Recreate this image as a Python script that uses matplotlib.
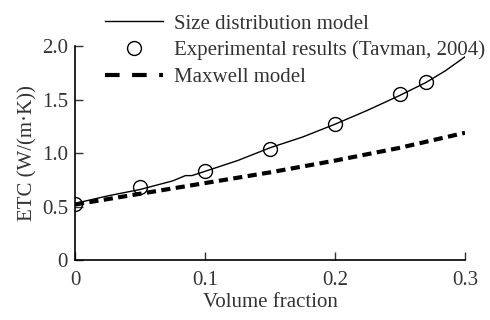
import matplotlib.pyplot as plt
from matplotlib.lines import Line2D

plt.rcParams['font.family'] = ['Liberation Serif', 'DejaVu Serif']

# size distribution model (solid line)
model_x = [0, 0.025, 0.05, 0.075, 0.085, 0.09, 0.1, 0.125, 0.15, 0.175, 0.2,
           0.225, 0.25, 0.27, 0.285, 0.3]
model_y = [0.53, 0.60, 0.66, 0.74, 0.79, 0.79, 0.83, 0.93, 1.05, 1.15, 1.27,
           1.40, 1.54, 1.66, 1.77, 1.90]

# experimental results (Tavman, 2004)
exp_x = [0, 0.05, 0.1, 0.15, 0.2, 0.25, 0.27]
exp_y = [0.52, 0.68, 0.83, 1.04, 1.27, 1.55, 1.66]

# Maxwell model (dashed)
max_x = [0, 0.05, 0.1, 0.15, 0.2, 0.25, 0.3]
max_y = [0.52, 0.62, 0.72, 0.82, 0.93, 1.05, 1.19]

fig = plt.figure(figsize=(4.9, 3.2), dpi=100)
ax = fig.add_axes([0.153, 0.187, 0.796, 0.669])

ax.plot(model_x, model_y, color='black', lw=1.0)
ax.plot(max_x, max_y, color='black', lw=3.0, dashes=(2.2, 1.3))
ax.plot(exp_x, exp_y, 'o', mfc='none', mec='black', ms=10, mew=1.0)

ax.set_xlim(0, 0.3)
ax.set_ylim(0, 2.0)
ax.set_xticks([0, 0.1, 0.2, 0.3])
ax.set_xticklabels(['0', '0.1', '0.2', '0.3'])
ax.set_yticks([0, 0.5, 1.0, 1.5, 2.0])
ax.set_yticklabels(['0', '0.5', '1.0', '1.5', '2.0'])
ax.tick_params(direction='in', length=6, width=1.0, labelsize=15, colors='#333333')
ax.tick_params(axis='x', pad=8)
ax.tick_params(axis='y', pad=5)
ax.spines['top'].set_visible(False)
ax.spines['right'].set_visible(False)
ax.spines['left'].set_linewidth(1.2)
ax.spines['bottom'].set_linewidth(1.2)

ax.set_xlabel('Volume fraction', fontsize=15, color='#333333', labelpad=2)
ax.set_ylabel('ETC (W/(m·K))', fontsize=15, color='#333333', labelpad=3)

handles = [
    Line2D([], [], color='black', lw=1.0),
    Line2D([], [], marker='o', ls='none', mfc='none', mec='black', ms=10),
    Line2D([], [], color='black', lw=3.0, dashes=(3.5, 3.0)),
]
labels = ['Size distribution model', 'Experimental results (Tavman, 2004)',
          'Maxwell model']
leg = fig.legend(handles, labels, loc='upper left', bbox_to_anchor=(0.176, 1.015),
                 frameon=False, fontsize=15, handlelength=2.8, handletextpad=0.5,
                 labelspacing=0.34)
for t in leg.get_texts():
    t.set_color('#333333')

fig.savefig('out.png', dpi=100)
